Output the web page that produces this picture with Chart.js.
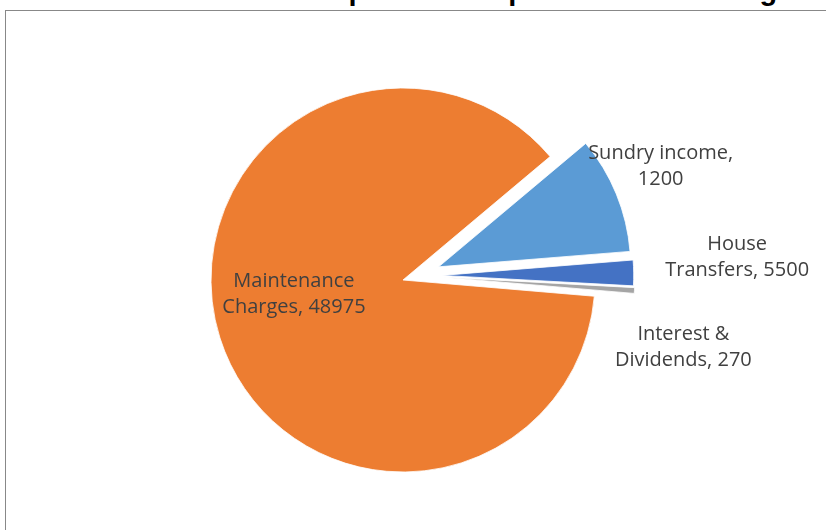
<!DOCTYPE html>
<html>
<head>
<meta charset="utf-8">
<script src="https://cdn.jsdelivr.net/npm/chart.js@4"></script>
<style>
  html, body { margin: 0; padding: 0; background: #fff; overflow: hidden; }
  body { width: 826px; height: 530px; position: relative; }
  #title {
    position: absolute; left: 15px; top: -24px; white-space: nowrap;
    font: bold 29px "Liberation Sans", Arial, sans-serif; line-height: 29px; color: #000;
  }
  #frame {
    position: absolute; left: 5px; top: 10px; width: 900px; height: 600px;
    border-left: 1px solid #888; border-top: 1px solid #888;
  }
  #wrap { position: absolute; left: 0; top: 0; width: 826px; height: 530px; }
</style>
</head>
<body>
<div id="title">Forecast Income and Expenditure Spend on Remaining Garages</div>
<div id="frame"></div>
<div id="wrap"><canvas id="chart" width="826" height="530"></canvas></div>
<script>
// slices clockwise from the upper right, sized as they are drawn
const values = [5500, 1200, 270, 48975]
const colors = ['#5B9BD5', '#4472C4', '#A5A5A5', '#ED7D31']
// data label text as printed next to each slice
const categories = ['Sundry income', 'House Transfers', 'Interest & Dividends', 'Maintenance Charges']
const labelValues = [1200, 5500, 270, 48975]
const firstLineWords = [2, 1, 2, 1]

// how far each slice is pulled out (px, direction nudge in degrees)
const explodeBy = [[38, 2], [39, -6], [40, -8], [0, 0]]
// where each label sits (angle nudge in degrees, distance / radius)
const labelPlace = [[-1.8, 1.47], [-3.4, 1.745], [9.2, 1.5], [10.8, 0.572]]

// chart.js' own arc offset eats thin slices, so move the slice centres instead
const explode = {
  id: 'explode',
  afterDatasetsUpdate(chart) {
    chart.getDatasetMeta(0).data.forEach((arc, i) => {
      const [dist, nudge] = explodeBy[i]
      const a = (arc.startAngle + arc.endAngle) / 2 + nudge * Math.PI / 180
      arc.x += Math.cos(a) * dist
      arc.y += Math.sin(a) * dist
    })
  }
}

const dataLabels = {
  id: 'dataLabels',
  afterDatasetsDraw(chart) {
    const ctx = chart.ctx
    const area = chart.chartArea
    const cx = (area.left + area.right) / 2
    const cy = (area.top + area.bottom) / 2
    ctx.save()
    ctx.font = '20px "Open Sans", sans-serif'
    ctx.fillStyle = '#404040'
    ctx.textAlign = 'center'
    ctx.textBaseline = 'middle'
    chart.getDatasetMeta(0).data.forEach((arc, i) => {
      const words = (categories[i] + ', ' + labelValues[i]).split(' ')
      const lines = [words.slice(0, firstLineWords[i]).join(' '), words.slice(firstLineWords[i]).join(' ')]
      const mid = (arc.startAngle + arc.endAngle) / 2 + labelPlace[i][0] * Math.PI / 180
      const dist = labelPlace[i][1] * arc.outerRadius
      const x = cx + Math.cos(mid) * dist
      const y = cy + Math.sin(mid) * dist
      lines.forEach((line, j) => {
        ctx.fillText(line, x, y + (j - 0.5) * 26 + 1.5)
      })
    })
    ctx.restore()
  }
}

new Chart(document.getElementById('chart').getContext('2d'), {
  type: 'pie',
  data: {
    labels: categories,
    datasets: [{
      data: values,
      backgroundColor: colors,
      borderColor: '#fff',
      borderWidth: 0.8,
      hoverOffset: 0,
    }],
  },
  options: {
    responsive: false,
    devicePixelRatio: 1,
    animation: false,
    events: [],
    rotation: 50,
    radius: 192,
    layout: {padding: {left: 0, right: 20, top: 30, bottom: 0}},
    plugins: {
      legend: {display: false},
      tooltip: {enabled: false},
      title: {display: false},
    },
  },
  plugins: [explode, dataLabels],
})
</script>
</body>
</html>
